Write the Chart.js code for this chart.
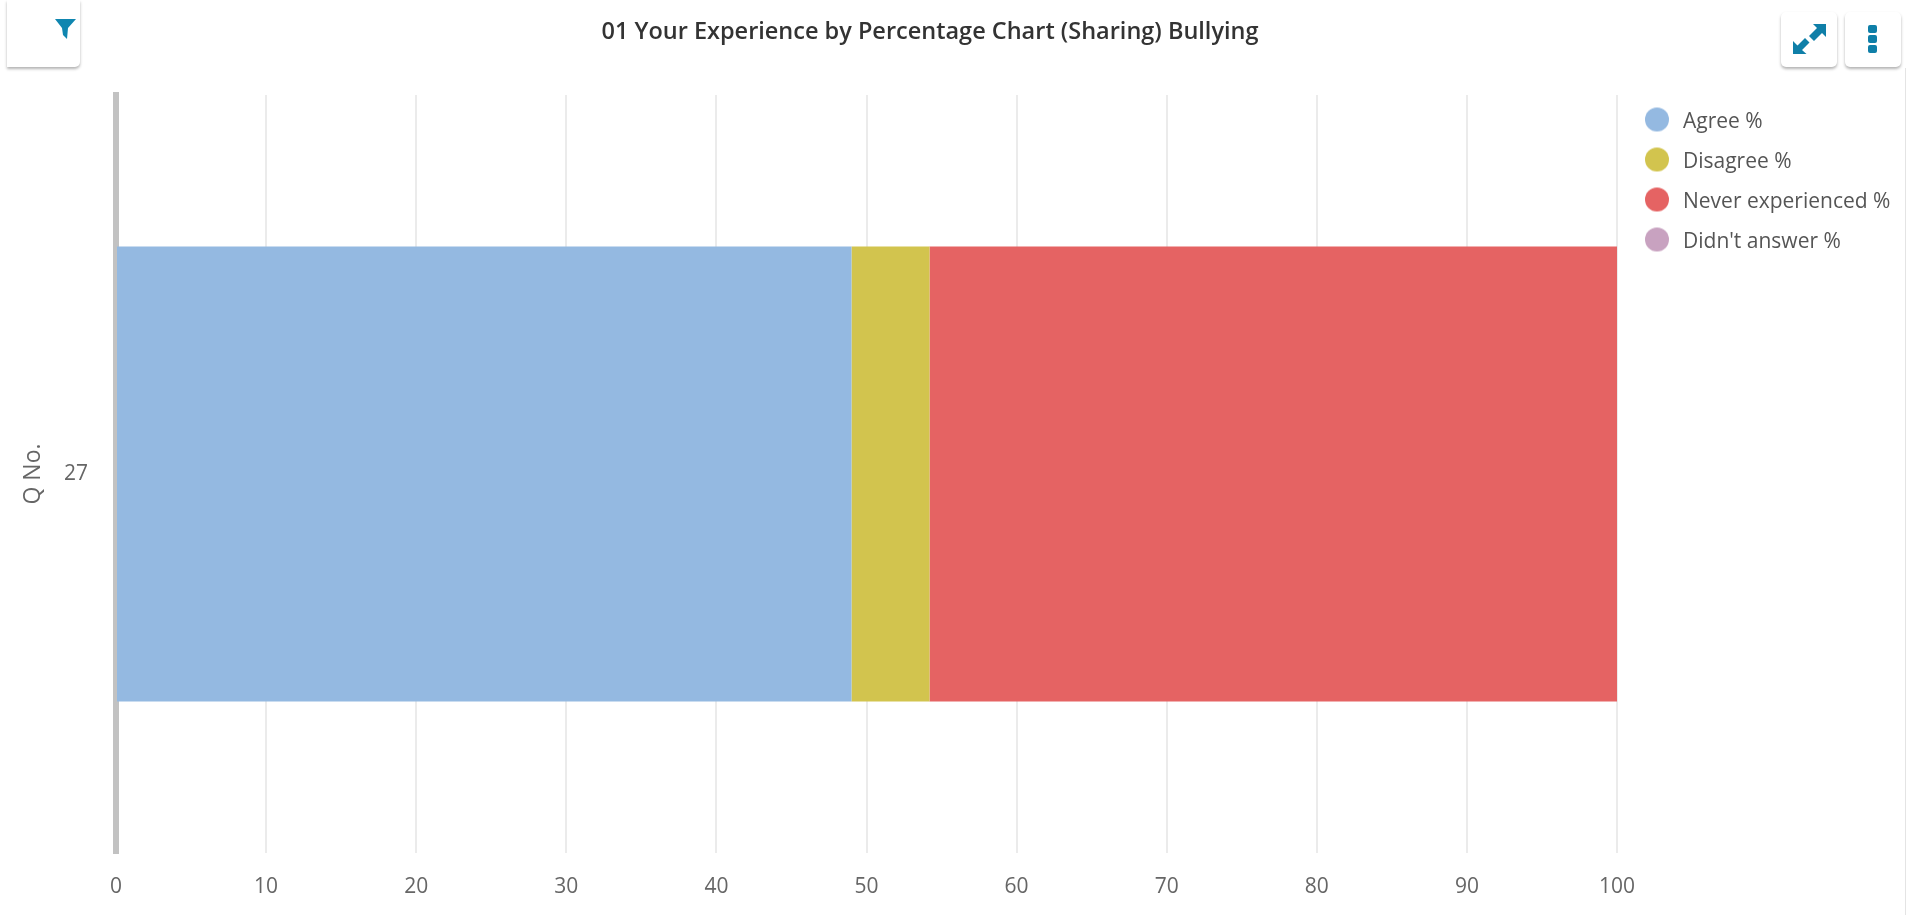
<!DOCTYPE html>
<html><head><meta charset="utf-8">
<script src="https://cdn.jsdelivr.net/npm/chart.js@4"></script>
<style>
html,body{margin:0;padding:0;background:#fff;overflow:hidden}
#wrap{position:relative;width:1907px;height:915px}
canvas{position:absolute;left:0;top:0}
.btn{position:absolute;background:#fff;border-radius:5px;box-shadow:0 2px 3px rgba(0,0,0,.3)}
.btn svg{position:absolute;left:0;top:0}
#edge{position:absolute;left:1905px;top:68px;width:1px;height:847px;background:#e4e4e4}
</style></head><body>
<div id="wrap">
<canvas id="c" width="1907" height="915"></canvas>
<div class="btn" style="left:7px;top:0;width:73px;height:67px;border-radius:0 0 5px 0">
<svg width="73" height="67"><path d="M48 19H69L61 28 60 39 56 35 55 28Z" fill="#0f86b0"/></svg></div>
<div class="btn" style="left:1781px;top:12px;width:56px;height:55px">
<svg width="56" height="55"><g fill="#0f7fa8"><path d="M45 12H32L36 16 28 24 33 29 41 21 45 25Z"/><path d="M12 42H25.5L21 38 28.5 30.5 24 26 16.5 33.5 12 29Z"/></g></svg></div>
<div class="btn" style="left:1845px;top:12px;width:56px;height:55px">
<svg width="56" height="55"><g fill="#0f7fa8"><rect x="23" y="13" width="9" height="8" rx="2"/><rect x="23" y="23" width="9" height="8" rx="2"/><rect x="23" y="33" width="9" height="8" rx="2"/></g></svg></div>
<div id="edge"></div>
</div>
<script>
const categories = ['27'];
const seriesNames = ['Agree %', 'Disagree %', 'Never experienced %', "Didn't answer %"];
const agree = [49.0];
const disagree = [5.2];
const neverExperienced = [45.8];
const didntAnswer = [0];
const colors = ['#94b9e1', '#d2c44e', '#e56363', '#c8a2c0'];
const titleText = '01 Your Experience by Percentage Chart (Sharing) Bullying';
const xTicks = [0,10,20,30,40,50,60,70,80,90,100];
const FONT = '"Open Sans", sans-serif';

function legendDot(color){
  const cv = document.createElement('canvas'); cv.width = 40; cv.height = 40;
  const g = cv.getContext('2d'); g.fillStyle = color;
  g.beginPath(); g.arc(15, 17, 12, 0, Math.PI*2); g.fill();
  return cv;
}
const legendPlace = {
  id:'legendPlace',
  beforeLayout(chart){
    const l = chart.legend;
    if(!l._fixed){ const f = l.fit; l.fit = function(){ f.call(this); this.width = 243; }; l._fixed = true; }
  },
  afterLayout(chart){
    const l = chart.legend;
    l.left = 1632.5; l.right = 1907; l.top = 93; l.bottom = 400;
  }
};

new Chart(document.getElementById('c'), {
  type:'bar',
  data:{ labels:categories, datasets:[
    {label:seriesNames[0], data:agree, backgroundColor:colors[0]},
    {label:seriesNames[1], data:disagree, backgroundColor:colors[1]},
    {label:seriesNames[2], data:neverExperienced, backgroundColor:colors[2]},
    {label:seriesNames[3], data:didntAnswer, backgroundColor:colors[3]}
  ]},
  plugins:[legendPlace],
  options:{
    indexAxis:'y', responsive:false, animation:false,
    layout:{padding:{left:0,right:47,top:0,bottom:0}},
    datasets:{bar:{barPercentage:0.6,categoryPercentage:1}},
    scales:{
      x:{ stacked:true, min:0, max:100,
        afterBuildTicks(a){ a.ticks = xTicks.map(v=>({value:v})); },
        afterFit(a){ a.height = 62; },
        grid:{color:'#ebebeb',lineWidth:2,drawTicks:false,drawOnChartArea:true},
        border:{display:false},
        ticks:{color:'#666',font:{family:FONT,size:21},padding:21,maxRotation:0} },
      y:{ stacked:true,
        afterFit(a){ a.width = 116; },
        grid:{display:false},
        border:{display:true,color:'#c2c2c2',width:6},
        title:{display:true,text:'Q No.',color:'#666',font:{family:FONT,size:23},padding:{top:20,bottom:14}},
        ticks:{color:'#666',font:{family:FONT,size:21},padding:20} }
    },
    plugins:{
      tooltip:{enabled:false},
      title:{display:true,text:titleText,color:'#333',font:{family:FONT,size:23.5,weight:'600'},
        padding:{top:18,bottom:48.8}},
      legend:{display:true,position:'right',align:'start',
        labels:{usePointStyle:true,boxHeight:21,boxWidth:21,padding:19,color:'#555',
          font:{family:FONT,size:21},
          generateLabels(chart){
            return Chart.defaults.plugins.legend.labels.generateLabels(chart)
              .map((it,i)=>Object.assign(it,{pointStyle:legendDot(colors[i])}));
          }}}
    }
  }
});
</script>
</body></html>
